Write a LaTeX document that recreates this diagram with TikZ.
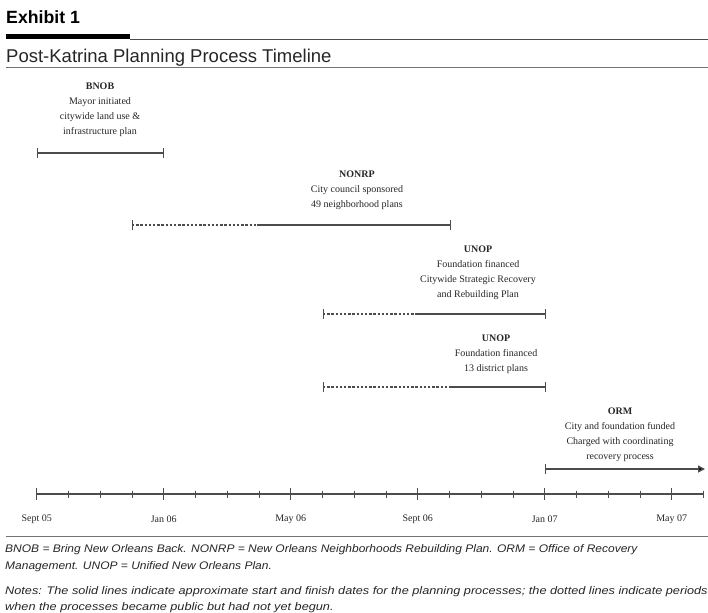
\documentclass[tikz,border=0pt]{standalone}
\usepackage{fontspec}
\setmainfont{Liberation Serif}
\newfontfamily\arialf{Liberation Sans}
\newfontfamily\arialwide[FakeStretch=1.155]{Liberation Sans}
\newfontfamily\arialmid[FakeStretch=1.09]{Liberation Sans}
\usetikzlibrary{arrows.meta}
\begin{document}
\begin{tikzpicture}[x=1pt,y=-1pt,
  bar/.style={line width=1.4pt, draw=black!70},
  dotbar/.style={line width=1.2pt, draw=black!70, dash pattern=on 2.4pt off 1.8pt},
  endtick/.style={line width=0.8pt, draw=black!70},
  lbl/.style={align=center, font=\fontsize{10}{15}\selectfont, inner sep=0pt, anchor=north, text=black!85},
  datelbl/.style={font=\fontsize{10}{11}\selectfont, inner sep=0pt, text=black!85},
  foot/.style={font=\arialwide\itshape\fontsize{11}{12}\selectfont, inner sep=0pt, anchor=base west, text=black!85},
  footb/.style={font=\arialmid\itshape\fontsize{11}{12}\selectfont, inner sep=0pt, anchor=base west, text=black!85}
]
\useasboundingbox (0,0) rectangle (708,612);
% header
\node[anchor=base west, inner sep=0pt, font=\arialf\bfseries\fontsize{17.7}{19}\selectfont] (exh) at (6,24) {Exhibit 1};
\coordinate (barA) at (6,36.5);
\coordinate (barB) at (130,36.5);
\coordinate (rule1A) at (130,39);
\coordinate (rule1B) at (708,39);
\draw[line width=5.5pt, black] (barA) -- (barB);
\draw[line width=0.8pt, black!70] (rule1A) -- (rule1B);
\node[anchor=base west, inner sep=0pt, font=\arialf\fontsize{18.5}{20}\selectfont, text=black!85] (title) at (6,63) {Post-Katrina Planning Process Timeline};
\coordinate (rule2A) at (6,67.5);
\coordinate (rule2B) at (708,67.5);
\draw[line width=1.5pt, black!55] (rule2A) -- (rule2B);

% BNOB
\node[lbl] (bnobT) at (100,82.5) {\textbf{BNOB}\\Mayor initiated\\citywide land use \&\\infrastructure plan};
\coordinate (b1) at (37,153);
\coordinate (b2) at (163,153);
\draw[bar] (b1) -- (b2);
\draw[endtick] ([yshift=-5pt]b1) -- ([yshift=5pt]b1);
\draw[endtick] ([yshift=-5pt]b2) -- ([yshift=5pt]b2);

% NONRP
\node[lbl] (nonT) at (357,170.5) {\textbf{NONRP}\\City council sponsored\\49 neighborhood plans};
\coordinate (n1) at (132,225);
\coordinate (n2) at (257,225);
\coordinate (n3) at (450,225);
\draw[dotbar] (n1) -- (n2);
\draw[bar] (n2) -- (n3);
\draw[endtick] ([yshift=-5pt]n1) -- ([yshift=5pt]n1);
\draw[endtick] ([yshift=-5pt]n3) -- ([yshift=5pt]n3);

% UNOP 1
\node[lbl] (u1T) at (478,245.5) {\textbf{UNOP}\\Foundation financed\\Citywide Strategic Recovery\\and Rebuilding Plan};
\coordinate (u1a) at (323,314);
\coordinate (u1b) at (417,314);
\coordinate (u1c) at (545,314);
\draw[dotbar] (u1a) -- (u1b);
\draw[bar] (u1b) -- (u1c);
\draw[endtick] ([yshift=-5pt]u1a) -- ([yshift=5pt]u1a);
\draw[endtick] ([yshift=-5pt]u1c) -- ([yshift=5pt]u1c);

% UNOP 2
\node[lbl] (u2T) at (496,334.5) {\textbf{UNOP}\\Foundation financed\\13 district plans};
\coordinate (u2a) at (323,387);
\coordinate (u2b) at (449,387);
\coordinate (u2c) at (545,387);
\draw[dotbar] (u2a) -- (u2b);
\draw[bar] (u2b) -- (u2c);
\draw[endtick] ([yshift=-5pt]u2a) -- ([yshift=5pt]u2a);
\draw[endtick] ([yshift=-5pt]u2c) -- ([yshift=5pt]u2c);

% ORM
\node[lbl] (ormT) at (620,407.5) {\textbf{ORM}\\City and foundation funded\\Charged with coordinating\\recovery process};
\coordinate (o1) at (545,469);
\coordinate (o2) at (705,469);
\draw[bar, -{Triangle[length=7pt,width=7pt,fill=black]}] (o1) -- (o2);
\draw[endtick] ([yshift=-5pt]o1) -- ([yshift=5pt]o1);

% axis
\coordinate (ax0) at (36.7,494);
\coordinate (ax1) at (703,494);
\draw[bar] (ax0) -- (ax1);
\foreach \i in {0,...,21}{
  \pgfmathsetmacro{\xx}{36.7+\i*31.75}
  \pgfmathtruncatemacro{\mm}{mod(\i,4)}
  \ifnum\mm=0
    \draw[endtick] (\xx,488) -- (\xx,500);
  \else
    \draw[endtick] (\xx,490.5) -- (\xx,497.5);
  \fi
}
\node[datelbl] (d0) at (36.7,519) {Sept 05};
\node[datelbl] (d1) at (163.7,519) {Jan 06};
\node[datelbl] (d2) at (290.7,519) {May 06};
\node[datelbl] (d3) at (417.7,519) {Sept 06};
\node[datelbl] (d4) at (544.7,519) {Jan 07};
\node[datelbl] (d5) at (671.7,519) {May 07};

% footer
\coordinate (rule3A) at (6,536.5);
\coordinate (rule3B) at (708,536.5);
\draw[line width=1.8pt, black!55] (rule3A) -- (rule3B);
\node[footb] (f1) at (5,552) {BNOB = Bring New Orleans Back. NONRP = New Orleans Neighborhoods Rebuilding Plan. ORM = Office of Recovery};
\node[footb] (f2) at (5,569) {Management. UNOP = Unified New Orleans Plan.};
\node[foot] (f3) at (5,594) {Notes: The solid lines indicate approximate start and finish dates for the planning processes; the dotted lines indicate periods};
\node[foot] (f4) at (5,610) {when the processes became public but had not yet begun.};
\end{tikzpicture}
\end{document}
